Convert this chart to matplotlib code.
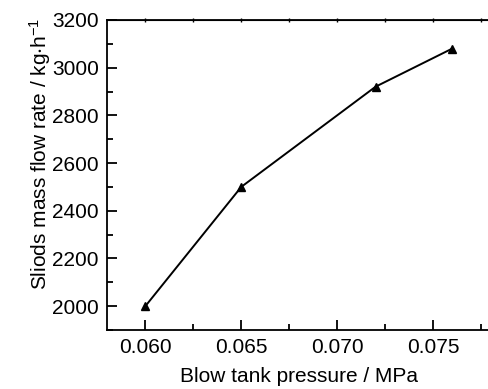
import matplotlib
matplotlib.use('Agg')
import matplotlib.pyplot as plt
from matplotlib.ticker import MultipleLocator

# Data
pressure = [0.060, 0.065, 0.072, 0.076]
flow_rate = [2000, 2500, 2920, 3080]

plt.rcParams['font.family'] = ['Liberation Sans', 'DejaVu Sans']
plt.rcParams['mathtext.fontset'] = 'custom'
plt.rcParams['mathtext.rm'] = 'Liberation Sans'
plt.rcParams['mathtext.default'] = 'regular'

fig = plt.figure(figsize=(4.88, 3.89), dpi=100)
ax = fig.add_axes([0.2193, 0.1517, 0.786, 0.797])

ax.plot(pressure, flow_rate, color='black', linewidth=1.4,
        marker='^', markersize=6)

ax.set_xlim(0.058, 0.078)
ax.set_ylim(1900, 3200)
ax.xaxis.set_major_locator(MultipleLocator(0.005))
ax.xaxis.set_minor_locator(MultipleLocator(0.0025))
ax.yaxis.set_major_locator(MultipleLocator(200))
ax.yaxis.set_minor_locator(MultipleLocator(100))
ax.xaxis.set_major_formatter(plt.FormatStrFormatter('%.3f'))

for s in ax.spines.values():
    s.set_linewidth(1.3)

ax.tick_params(which='major', direction='in', length=7, width=1.3,
               labelsize=15, pad=6)
ax.tick_params(which='minor', direction='in', length=4, width=1.3)

# small marks along the top border
top = ax.secondary_xaxis('top')
top.xaxis.set_major_locator(MultipleLocator(0.0025))
top.tick_params(direction='inout', length=3, width=1.0, labeltop=False)

ax.set_xlabel('Blow tank pressure / MPa', fontsize=15, labelpad=7)
ax.set_ylabel(r'Sliods mass flow rate / kg$\cdot$h$^{-1}$', fontsize=15)
ax.yaxis.set_label_coords(-0.142, 0.568)

fig.savefig('out.png', dpi=100)
